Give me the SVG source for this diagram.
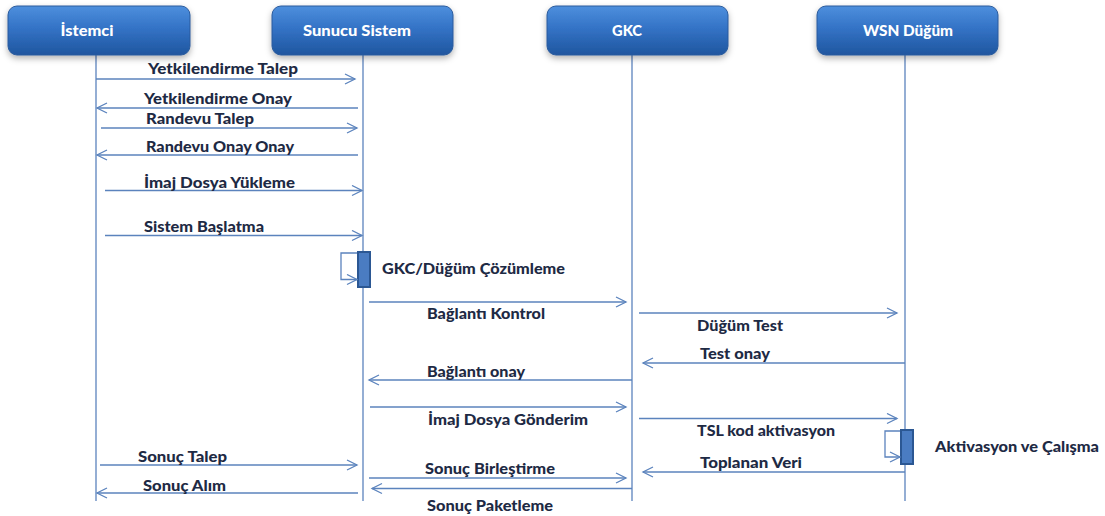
<svg xmlns="http://www.w3.org/2000/svg" width="1105" height="516" viewBox="0 0 1105 516">
<style>
.hd{fill:url(#hg);stroke:#2a5a9c;stroke-width:1;filter:url(#sh)}
.ht{font-family:Lato,"Liberation Sans",sans-serif;font-weight:900;font-size:15px;fill:#ffffff;text-anchor:middle}
.ll{stroke:#5b83bd;stroke-width:1.3;fill:none}
.msg{stroke:#5b83bd;stroke-width:1.3;fill:none;marker-end:url(#ah)}
.lb{font-family:Lato,"Liberation Sans",sans-serif;font-weight:900;font-size:15px;fill:#1e2a44}
.act{fill:#4a7cc2;stroke:#2b5793;stroke-width:2}
</style>
<defs>
<linearGradient id="hg" x1="0" y1="0" x2="0" y2="1">
<stop offset="0" stop-color="#4d8fdd"/>
<stop offset="0.45" stop-color="#3473c6"/>
<stop offset="1" stop-color="#1f569f"/>
</linearGradient>
<filter id="sh" x="-10%" y="-20%" width="120%" height="160%">
<feDropShadow dx="0" dy="3" stdDeviation="3" flood-color="#000" flood-opacity="0.3"/>
</filter>
<marker id="ah" markerUnits="userSpaceOnUse" markerWidth="14" markerHeight="14" refX="11" refY="6" orient="auto">
<path d="M1,1 L11,6 L1,11" fill="none" stroke="#5b83bd" stroke-width="1.3"/>
</marker>
</defs>
<rect width="1105" height="516" fill="#ffffff"/>

<g id="lifelines">
<line class="ll" x1="96" y1="55" x2="96" y2="501"/>
<line class="ll" x1="363" y1="55" x2="363" y2="501"/>
<line class="ll" x1="632" y1="55" x2="632" y2="501"/>
<line class="ll" x1="905" y1="55" x2="905" y2="501"/>
</g>

<g id="node-istemci">
<rect class="hd" x="8" y="6" width="182" height="49" rx="9"/>
<text class="ht" x="87" y="36" textLength="53" lengthAdjust="spacingAndGlyphs">İstemci</text>
</g>
<g id="node-sunucu">
<rect class="hd" x="272" y="6" width="181" height="49" rx="9"/>
<text class="ht" x="357" y="36" textLength="108" lengthAdjust="spacingAndGlyphs">Sunucu Sistem</text>
</g>
<g id="node-gkc">
<rect class="hd" x="547" y="6" width="181" height="49" rx="9"/>
<text class="ht" x="627" y="36" textLength="30" lengthAdjust="spacingAndGlyphs">GKC</text>
</g>
<g id="node-wsn">
<rect class="hd" x="817" y="6" width="181" height="49" rx="9"/>
<text class="ht" x="908" y="36" textLength="90" lengthAdjust="spacingAndGlyphs">WSN Düğüm</text>
</g>

<g id="activation-sunucu">
<rect class="act" x="358" y="252" width="12" height="35"/>
</g>
<g id="activation-wsn">
<rect class="act" x="901" y="430" width="12" height="34"/>
</g>

<g id="connectors">
<line class="msg" x1="96" y1="79" x2="355" y2="79"/>
<line class="msg" x1="358" y1="108" x2="97" y2="108"/>
<line class="msg" x1="101" y1="128" x2="357" y2="128"/>
<line class="msg" x1="358" y1="155" x2="97" y2="155"/>
<line class="msg" x1="105" y1="190.5" x2="362" y2="190.5"/>
<line class="msg" x1="105" y1="235.5" x2="362" y2="235.5"/>
<path class="msg" d="M357,253 H341 V279.5 H357"/>
<line class="msg" x1="369" y1="302" x2="626" y2="302"/>
<line class="msg" x1="639" y1="313" x2="897" y2="313"/>
<line class="msg" x1="905" y1="363" x2="643" y2="363"/>
<line class="msg" x1="632" y1="380" x2="369" y2="380"/>
<line class="msg" x1="370" y1="407" x2="626" y2="407"/>
<line class="msg" x1="639" y1="418.5" x2="897" y2="418.5"/>
<path class="msg" d="M900,431 H885 V457 H900"/>
<line class="msg" x1="905" y1="472" x2="643" y2="472"/>
<line class="msg" x1="100" y1="465" x2="357" y2="465"/>
<line class="msg" x1="369" y1="478" x2="626" y2="478"/>
<line class="msg" x1="358" y1="493" x2="97" y2="493"/>
<line class="msg" x1="632" y1="488.5" x2="372" y2="488.5"/>
</g>

<g id="labels">
<text class="lb" x="148" y="74" textLength="150" lengthAdjust="spacingAndGlyphs">Yetkilendirme Talep</text>
<text class="lb" x="144" y="104" textLength="148" lengthAdjust="spacingAndGlyphs">Yetkilendirme Onay</text>
<text class="lb" x="146" y="124" textLength="108" lengthAdjust="spacingAndGlyphs">Randevu Talep</text>
<text class="lb" x="146" y="152" textLength="148" lengthAdjust="spacingAndGlyphs">Randevu Onay Onay</text>
<text class="lb" x="144" y="188" textLength="151" lengthAdjust="spacingAndGlyphs">İmaj Dosya Yükleme</text>
<text class="lb" x="144" y="232" textLength="120" lengthAdjust="spacingAndGlyphs">Sistem Başlatma</text>
<text class="lb" x="382" y="274" textLength="183" lengthAdjust="spacingAndGlyphs">GKC/Düğüm Çözümleme</text>
<text class="lb" x="427" y="319" textLength="118" lengthAdjust="spacingAndGlyphs">Bağlantı Kontrol</text>
<text class="lb" x="697" y="331" textLength="86" lengthAdjust="spacingAndGlyphs">Düğüm Test</text>
<text class="lb" x="700" y="359" textLength="70" lengthAdjust="spacingAndGlyphs">Test onay</text>
<text class="lb" x="427" y="377" textLength="98" lengthAdjust="spacingAndGlyphs">Bağlantı onay</text>
<text class="lb" x="428" y="425" textLength="160" lengthAdjust="spacingAndGlyphs">İmaj Dosya Gönderim</text>
<text class="lb" x="697" y="436" textLength="138" lengthAdjust="spacingAndGlyphs">TSL kod aktivasyon</text>
<text class="lb" x="935" y="452" textLength="164" lengthAdjust="spacingAndGlyphs">Aktivasyon ve Çalışma</text>
<text class="lb" x="700" y="468" textLength="102" lengthAdjust="spacingAndGlyphs">Toplanan Veri</text>
<text class="lb" x="138" y="462" textLength="89" lengthAdjust="spacingAndGlyphs">Sonuç Talep</text>
<text class="lb" x="425" y="474" textLength="130" lengthAdjust="spacingAndGlyphs">Sonuç Birleştirme</text>
<text class="lb" x="143" y="491" textLength="83" lengthAdjust="spacingAndGlyphs">Sonuç Alım</text>
<text class="lb" x="427" y="511" textLength="126" lengthAdjust="spacingAndGlyphs">Sonuç Paketleme</text>
</g>
</svg>
